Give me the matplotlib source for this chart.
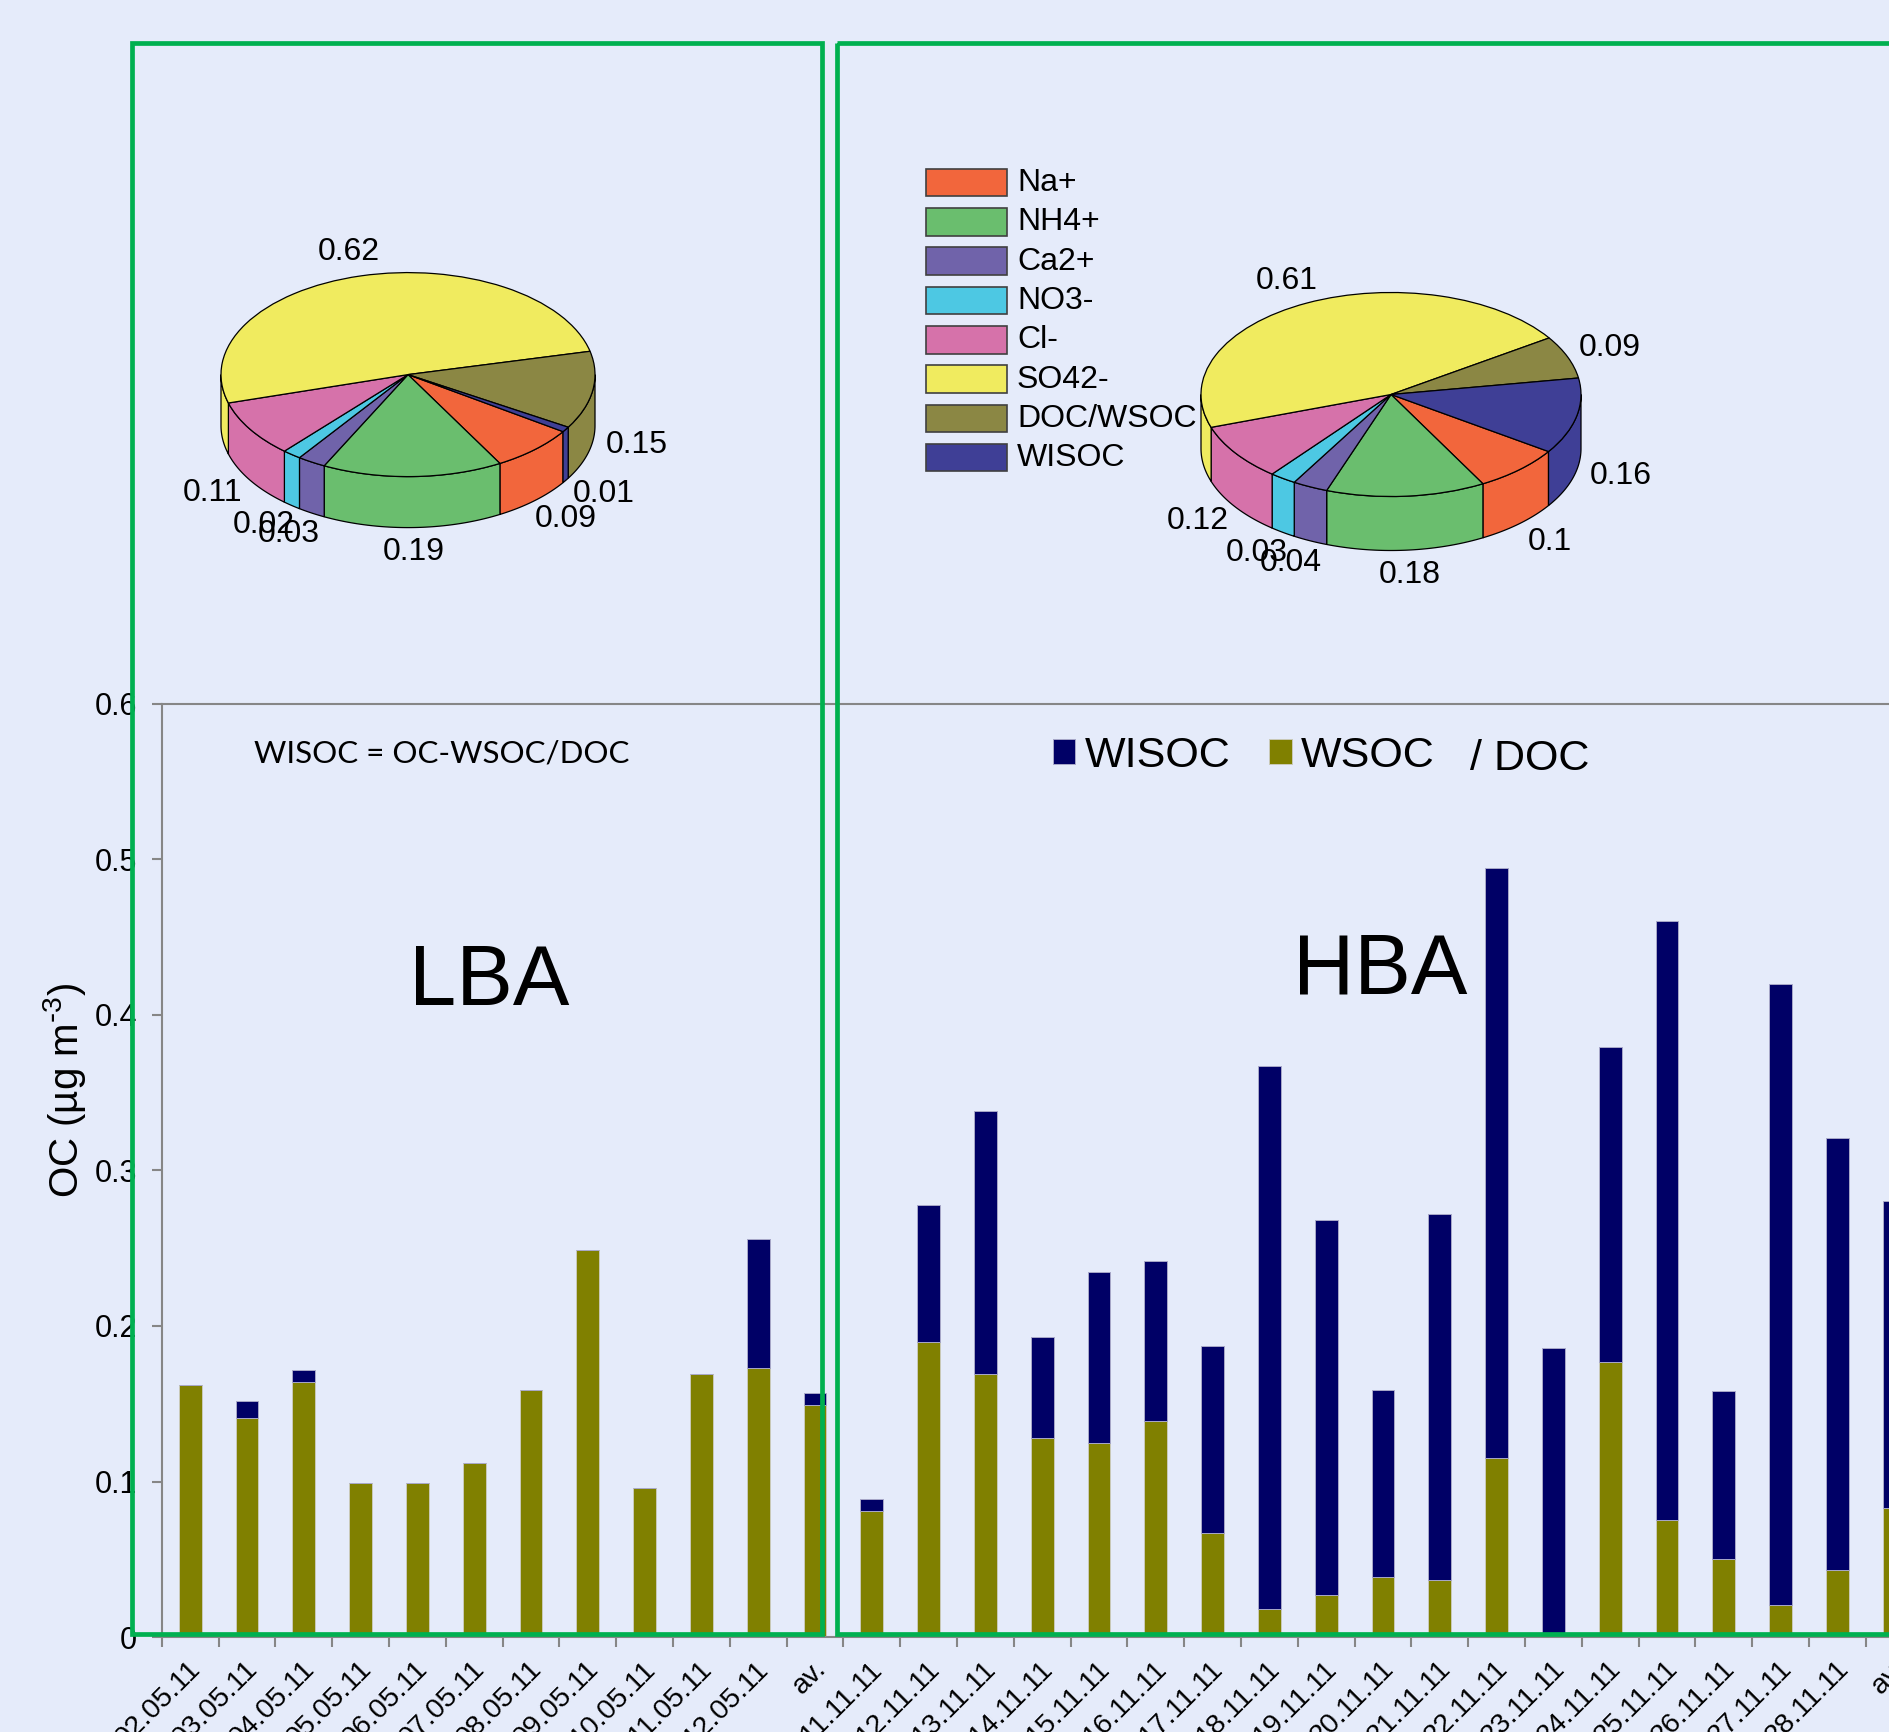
import numpy as np
import matplotlib
matplotlib.use("Agg")
import matplotlib.pyplot as plt
import matplotlib.transforms as mtransforms
from matplotlib.patches import Wedge, Polygon, Rectangle

plt.rcParams['font.family'] = ['Liberation Sans', 'DejaVu Sans']
plt.rcParams['mathtext.default'] = 'regular'

W, H = 1889, 1732
BG = '#E5EBFA'
FRAME = '#00B050'
GREY = '#868686'

# ---- daily organic carbon fractions (µg m-3)
days_lba = ["02.05.11", "03.05.11", "04.05.11", "05.05.11", "06.05.11", "07.05.11",
            "08.05.11", "09.05.11", "10.05.11", "11.05.11", "12.05.11", "av."]
days_hba = ["11.11.11", "12.11.11", "13.11.11", "14.11.11", "15.11.11", "16.11.11",
            "17.11.11", "18.11.11", "19.11.11", "20.11.11", "21.11.11", "22.11.11",
            "23.11.11", "24.11.11", "25.11.11", "26.11.11", "27.11.11", "28.11.11", "av."]
wsoc_lba = [0.162, 0.141, 0.164, 0.099, 0.099, 0.112, 0.159, 0.249, 0.096, 0.169, 0.173, 0.149]
wisoc_lba = [0.0, 0.011, 0.008, 0.0, 0.0, 0.0, 0.0, 0.0, 0.0, 0.0, 0.083, 0.008]
wsoc_hba = [0.081, 0.190, 0.169, 0.128, 0.125, 0.139, 0.067, 0.018, 0.027, 0.039,
            0.037, 0.115, 0.003, 0.177, 0.075, 0.050, 0.021, 0.043, 0.083]
wisoc_hba = [0.008, 0.088, 0.169, 0.065, 0.110, 0.103, 0.120, 0.349, 0.241, 0.120,
             0.235, 0.379, 0.183, 0.202, 0.385, 0.108, 0.399, 0.278, 0.197]
yticks = [0.0, 0.1, 0.2, 0.3, 0.4, 0.5, 0.6]

# ---- mean composition of the aerosol mass
species = ["Na+", "NH4+", "Ca2+", "NO3-", "Cl-", "SO42-", "DOC/WSOC", "WISOC"]
species_colors = ['#F2663C', '#6ABE6E', '#7063AA', '#4DC8E3', '#D672AA',
                  '#F0EB5F', '#8B8744', '#3F3F96']
comp_lba = [0.09, 0.19, 0.03, 0.02, 0.11, 0.62, 0.15, 0.01]
comp_hba = [0.10, 0.18, 0.04, 0.03, 0.12, 0.61, 0.09, 0.16]

fig = plt.figure(figsize=(W / 100, H / 100), dpi=100, facecolor=BG)

# ---------------- stacked bars ----------------
x0_px, y0_px, step_px, top_px = 161.8, 1637.2, 56.8, 703.5
labels = days_lba + days_hba
n = len(labels)
ax = fig.add_axes([x0_px / W, (H - y0_px) / H, n * step_px / W, (y0_px - top_px) / H])
ax.set_facecolor('none')
x = np.arange(n)
wsoc = np.array(wsoc_lba + wsoc_hba)
wisoc = np.array(wisoc_lba + wisoc_hba)
bw = ax.bar(x, wsoc, 0.4, color='#808000', edgecolor='#C9C9B8', lw=0.7, label='WSOC')
bi = ax.bar(x, wisoc, 0.4, bottom=wsoc, color='#000066', edgecolor='#A8A8C8', lw=0.7,
            label='WISOC')
ax.set_xlim(-0.5, n - 0.5)
ax.set_ylim(0, 0.6)
ax.set_yticks(yticks)
ax.set_yticklabels([f"{v:g}" for v in yticks], fontsize=22)
ax.set_xticks(x)
ax.set_xticklabels(labels, rotation=45, ha='right', va='center',
                   rotation_mode='anchor', fontsize=20.5)
ax.set_xticks(np.arange(-0.5, n), minor=True)
ax.tick_params(axis='x', which='major', length=0, pad=20)
ax.tick_params(axis='x', which='minor', length=7, width=1.5, color=GREY, direction='out')
ax.tick_params(axis='y', length=7, width=1.5, color=GREY, direction='out', pad=11)
shift = mtransforms.ScaledTranslation(7 / 100, 0, fig.dpi_scale_trans)
for t in ax.get_xticklabels():
    t.set_transform(t.get_transform() + shift)
ax.spines['right'].set_visible(False)
for s in ('left', 'top', 'bottom'):
    ax.spines[s].set_color(GREY)
    ax.spines[s].set_linewidth(1.5)

leg = ax.legend([bi, bw], ['WISOC', 'WSOC'], ncol=2, frameon=False, fontsize=31,
                handlelength=0.52, handleheight=0.52, handletextpad=0.22,
                columnspacing=0.9, borderpad=0, borderaxespad=0,
                loc='center left', bbox_to_anchor=(1053 / W, 1 - 756 / H),
                bbox_transform=fig.transFigure)

fig.text(64 / W, 1 - 1090 / H, r"OC (µg m$^{\text{-}3}$)", rotation=90, fontsize=29,
         ha='center', va='center')


# ---------------- 3-D pies ----------------
def pie3d(values, cx, cy, rx, ry, thick, start=-34.0, r_lab=1.24):
    xl, yl_top, yl_bot = 1.6, 1.6, 2.4
    ax_p = fig.add_axes([(cx - xl * rx) / W, (H - cy - yl_bot * ry) / H,
                         2 * xl * rx / W, (yl_top + yl_bot) * ry / H])
    ax_p.set_xlim(-xl, xl)
    ax_p.set_ylim(-yl_bot, yl_top)
    ax_p.axis('off')
    vals = np.asarray(values, float)
    spans = vals / vals.sum() * 360.0
    ends = start - np.cumsum(spans)
    starts = ends + spans
    h = thick / ry
    # front walls
    for s, e, c in zip(starts, ends, species_colors):
        for k in (-360.0, 0.0, 360.0):
            a, b = max(e, -180.0 + k), min(s, k)
            if b > a:
                t = np.radians(np.linspace(a, b, 80))
                top = np.column_stack([np.cos(t), np.sin(t)])
                bot = top - [0.0, h]
                ax_p.add_patch(Polygon(np.vstack([top, bot[::-1]]), closed=True,
                                       fc=c, ec='black', lw=0.9))
    # top face
    for s, e, c in zip(starts, ends, species_colors):
        ax_p.add_patch(Wedge((0, 0), 1.0, e, s, fc=c, ec='black', lw=0.9))
    # value labels
    for s, e, v in zip(starts, ends, vals):
        m = np.radians((s + e) / 2)
        ly = r_lab * np.sin(m) - (h if np.sin(m) < 0 else 0.0)
        ax_p.text(r_lab * np.cos(m), ly, f"{v:g}", fontsize=23,
                  ha='center', va='center')


pie3d(comp_lba, 408, 374.6, 187, 102, 51)
pie3d(comp_hba, 1391, 394.5, 190, 102, 54)

# ---------------- overlay: frames, legend of species, notes ----------------
ov = fig.add_axes([0, 0, 1, 1])
ov.set_xlim(0, W)
ov.set_ylim(H, 0)
ov.axis('off')
ov.set_zorder(5)
ov.add_patch(Rectangle((132, 43), 690, 1591, fill=False, ec=FRAME, lw=3.4))
ov.add_patch(Rectangle((837, 43), 1200, 1591, fill=False, ec=FRAME, lw=3.4))

for i, (name, col) in enumerate(zip(species, species_colors)):
    y = 168.7 + 39.3 * i
    ov.add_patch(Rectangle((925.7, y), 81.6, 27.7, fc=col, ec='#404040', lw=1.2))
    ov.text(1017, y + 14.5, name, fontsize=23, ha='left', va='center')

ov.text(254, 762, "WISOC = OC-WSOC/DOC", family=['Lato', 'DejaVu Sans'], fontsize=22.5,
        ha='left', va='baseline')
ov.text(1470, 770, "/ DOC", fontsize=31, ha='left', va='baseline')
ov.text(489, 1005, "LBA", fontsize=61, ha='center', va='baseline')
ov.text(1380, 994, "HBA", fontsize=61, ha='center', va='baseline')

fig.savefig("out.png", dpi=100, facecolor=BG)
